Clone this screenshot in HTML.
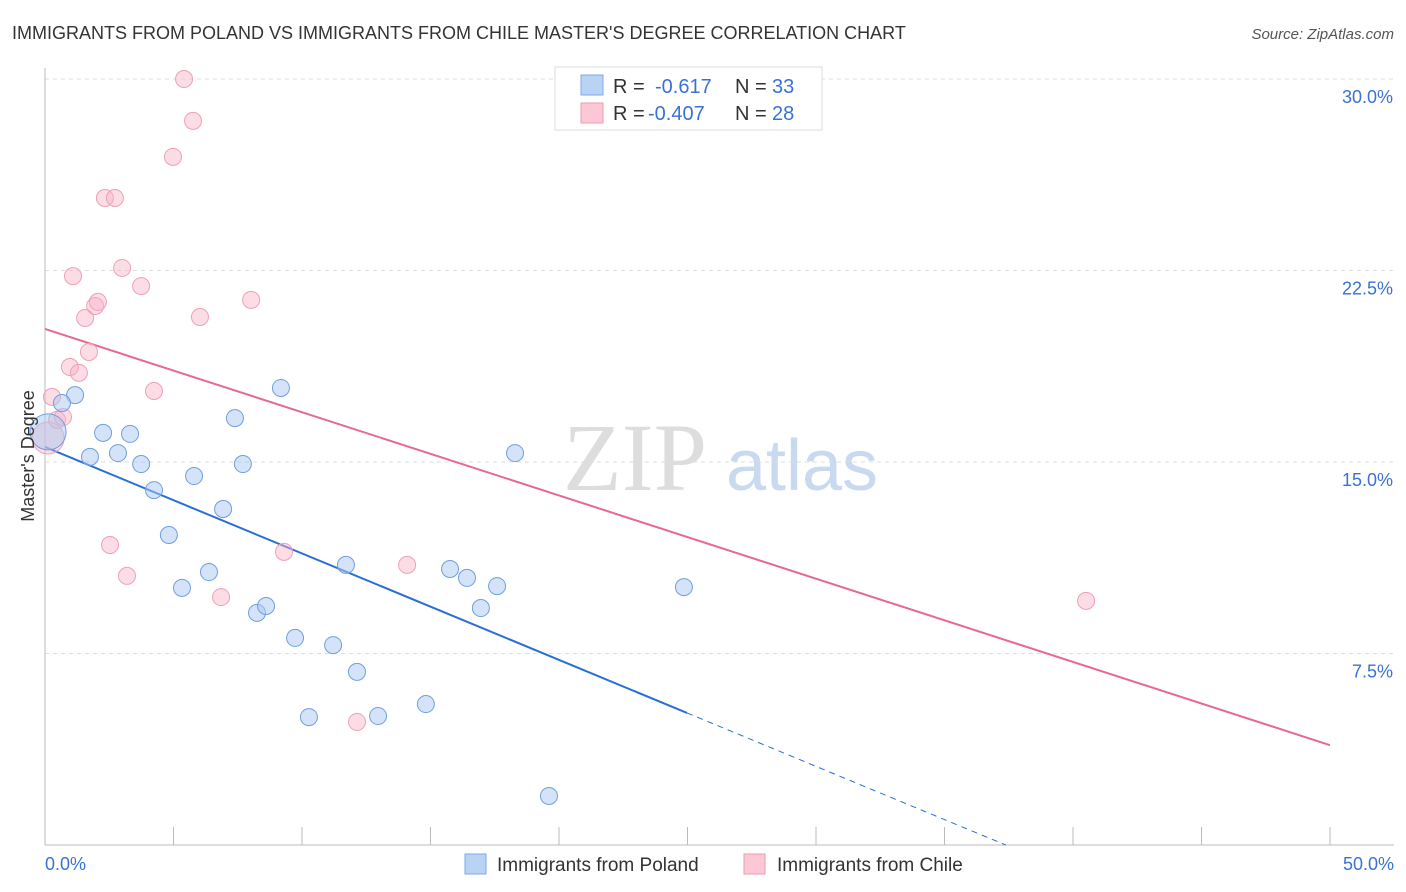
<!DOCTYPE html>
<html><head><meta charset="utf-8"><style>
body{margin:0;background:#fff;font-family:"Liberation Sans",sans-serif;}
svg{display:block}
</style></head><body>
<svg id="c" width="1406" height="892" xmlns="http://www.w3.org/2000/svg">
<text x="12" y="39" font-size="18" fill="#333">IMMIGRANTS FROM POLAND VS IMMIGRANTS FROM CHILE MASTER'S DEGREE CORRELATION CHART</text>
<text x="1394" y="39" font-size="15" fill="#555" font-style="italic" text-anchor="end">Source: ZipAtlas.com</text>
<g>
<text x="635" y="490" font-size="96" fill="#ddd" font-family="Liberation Serif,serif" text-anchor="middle">ZIP</text>
<text x="802" y="490" font-size="72" fill="#c8d9f0" text-anchor="middle">atlas</text>
</g>
<g id="grid"></g>
<g id="axes"></g>
<g id="lines"></g>
<g id="pts"></g>
<text transform="translate(34,456) rotate(-90)" font-size="18" fill="#333" text-anchor="middle">Master's Degree</text>
<g>
<rect x="555" y="67" width="267" height="63" fill="#fff" stroke="#ddd"/>
<rect x="581" y="75" width="22" height="20" fill="#b9d3f5" stroke="#7eaae6"/>
<rect x="581" y="103" width="22" height="20" fill="#fcc8d6" stroke="#ee9ab3"/>
<text x="613" y="93" font-size="20" fill="#333">R = </text><text x="655" y="93" font-size="20" fill="#3a72d4">-0.617</text>
<text x="735" y="93" font-size="20" fill="#333">N = </text><text x="772" y="93" font-size="20" fill="#3a72d4">33</text>
<text x="613" y="120" font-size="20" fill="#333">R = </text><text x="648" y="120" font-size="20" fill="#3a72d4">-0.407</text>
<text x="735" y="120" font-size="20" fill="#333">N = </text><text x="772" y="120" font-size="20" fill="#3a72d4">28</text>
</g>
<g>
<rect x="465" y="854" width="21" height="20" fill="#b9d3f5" stroke="#7eaae6"/>
<text x="497" y="871" font-size="19" fill="#333">Immigrants from Poland</text>
<rect x="744" y="854" width="21" height="20" fill="#fcc8d6" stroke="#ee9ab3"/>
<text x="777" y="871" font-size="19" fill="#333">Immigrants from Chile</text>
</g>
</svg>
<script>
const polandX=[0.12,1.17,0.66,1.75,2.26,2.84,3.31,3.74,4.24,4.82,5.33,5.80,6.38,6.93,7.39,7.70,8.25,8.60,9.18,9.73,10.27,11.21,11.71,12.14,12.96,14.82,15.76,16.42,16.96,17.59,18.29,19.61,24.86];
const polandY=[16.18,17.62,17.31,15.20,16.14,15.35,16.10,14.92,13.90,12.14,10.07,14.45,10.69,13.16,16.72,14.92,9.09,9.36,17.90,8.11,5.01,7.83,10.97,6.78,5.05,5.52,10.81,10.46,9.28,10.14,15.35,1.92,10.10];
const chileX=[0.12,0.27,0.47,0.70,0.97,1.09,1.32,1.56,1.71,1.95,2.06,2.33,2.53,2.72,3.00,3.19,3.74,4.24,4.98,5.41,5.76,6.03,6.85,8.02,9.30,12.14,14.09,40.51];
const chileY=[15.94,17.55,16.65,16.76,18.72,22.28,18.49,20.64,19.31,21.11,21.27,25.34,11.75,25.34,22.60,10.54,21.89,17.78,26.95,30.00,28.36,20.68,9.71,21.35,11.48,4.82,10.97,9.56];
const yTicks=[7.5,15,22.5,30];
const yTickLabels=["7.5%","15.0%","22.5%","30.0%"];
const xTickLabels=["0.0%","50.0%"];
const polandTrend=[15.59,-0.417];
const chileTrend=[20.21,-0.326];
const NS="http://www.w3.org/2000/svg";
const X0=45,X1=1330,Y0=845,Y30=79;
const sx=v=>X0+(v/50)*(X1-X0);
const sy=v=>Y0-(v/30)*(Y0-Y30);
function mk(tag,attrs,parent){const e=document.createElementNS(NS,tag);for(const k in attrs)e.setAttribute(k,attrs[k]);document.getElementById(parent).appendChild(e);return e;}
yTicks.forEach((t,i)=>{
 const l=mk('line',{x1:X0,x2:1394,y1:sy(t),y2:sy(t),stroke:'#ddd','stroke-dasharray':'4,4'},'grid');
 
 
 const tx=mk('text',{x:1393,y:sy(t)+24,'font-size':18,fill:'#3a72d4','text-anchor':'end'},'grid');
 tx.textContent=yTickLabels[i];
 
 
});
const ax=mk('line',{x1:X0,x2:X0,y1:68,y2:Y0,stroke:'#bbb'},'axes');


const bx=mk('line',{x1:X0,x2:1394,y1:Y0,y2:Y0,stroke:'#bbb'},'axes');


for(let i=0;i<=10;i++){const t=mk('line',{x1:sx(i*5),x2:sx(i*5),y1:827,y2:Y0,stroke:'#bbb'},'axes');
 
 }
[[0,'start',45],[50,'end',1394]].forEach((d,i)=>{const t=mk('text',{x:d[2],y:870,'font-size':18,fill:'#3a72d4','text-anchor':d[1]},'axes');t.textContent=xTickLabels[i];
 
 });
const pe=24.98;
const l1=mk('line',{x1:sx(0),y1:sy(polandTrend[0]),x2:sx(pe),y2:sy(polandTrend[0]+polandTrend[1]*pe),stroke:'#2a6fd6','stroke-width':2},'lines');


const xe=-polandTrend[0]/polandTrend[1];
const l2=mk('line',{x1:sx(pe),y1:sy(polandTrend[0]+polandTrend[1]*pe),x2:sx(xe),y2:sy(0),stroke:'#2a6fd6','stroke-width':1,'stroke-dasharray':'6,5'},'lines');


const l3=mk('line',{x1:sx(0),y1:sy(chileTrend[0]),x2:sx(50),y2:sy(chileTrend[0]+chileTrend[1]*50),stroke:'#e46a91','stroke-width':2},'lines');


chileX.forEach((x,i)=>{const c=mk('circle',{cx:sx(x),cy:sy(chileY[i]),r:i==0?16:8.5,fill:'rgba(248,180,200,0.45)',stroke:'#eea0b8','stroke-width':1},'pts');
 
 });
polandX.forEach((x,i)=>{const c=mk('circle',{cx:sx(x),cy:sy(polandY[i]),r:i==0?18:8.5,fill:'rgba(170,200,240,0.5)',stroke:'#6f9fe0','stroke-width':1},'pts');
 
 });
</script>
</body></html>
